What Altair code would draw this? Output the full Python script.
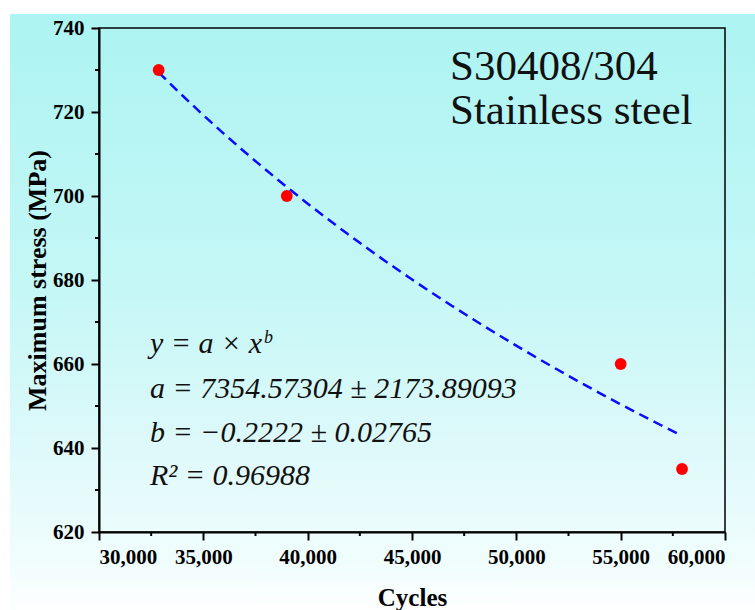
import altair as alt
import pandas as pd

# ---- data ----
cycles = [32860, 39000, 55000, 57940]
stress = [730, 700, 660, 635]
x_ticks = [30000, 35000, 40000, 45000, 50000, 55000, 60000]
x_minor = [32500, 37500, 42500, 47500, 52500, 57500]
y_ticks = [620, 640, 660, 680, 700, 720, 740]
y_minor = [630, 650, 670, 690, 710, 730]
title_lines = ["S30408/304", "Stainless steel"]
eq_lines = ["y = a × x", "a = 7354.57304 ± 2173.89093",
            "b = −0.2222 ± 0.02765", "R² = 0.96988"]
eq_sup = "b"

W, H = 626, 504
SERIF = "Liberation Serif"

df = pd.DataFrame({"cycles": cycles, "stress": stress})
one = alt.Data(values=[{"k": 0}])

xscale = alt.Scale(domain=[30000, 60000], nice=False, zero=False)
yscale = alt.Scale(domain=[620, 740], nice=False, zero=False)
xaxis = alt.Axis(values=x_ticks, format=",.0f", title="Cycles", zindex=2,
                 titleX=W / 2, titleY=73, titleBaseline="alphabetic",
                 titleFontSize=25, labelPadding=6)
yaxis = alt.Axis(values=y_ticks, format=".0f", title="Maximum stress (MPa)", zindex=2,
                 titleX=-54, titleY=H / 2, titleBaseline="alphabetic",
                 titleAngle=-90, titleFontSize=26, labelPadding=7)

bg = alt.Chart(one).mark_rect(
    fill=alt.LinearGradient(
        gradient="linear",
        stops=[
            alt.GradientStop(color="#acf4f2", offset=0),
            alt.GradientStop(color="#c4f7f6", offset=0.45),
            alt.GradientStop(color="#def9fa", offset=0.72),
            alt.GradientStop(color="#f1fdfd", offset=0.92),
            alt.GradientStop(color="#ffffff", offset=1),
        ],
        x1=0, x2=0, y1=0, y2=1,
    )
).encode(x=alt.value(-89), x2=alt.value(660), y=alt.value(-14), y2=alt.value(585))

fit = alt.Chart(df).transform_regression(
    "cycles", "stress", method="pow"
).mark_line(color="#0a0aff", strokeWidth=2.5, strokeDash=[10, 6]).encode(
    x=alt.X("cycles:Q", scale=xscale, axis=xaxis),
    y=alt.Y("stress:Q", scale=yscale, axis=yaxis),
)

pts = alt.Chart(df).mark_circle(color="#ff0000", opacity=1, size=140).encode(
    x=alt.X("cycles:Q", scale=xscale, axis=xaxis),
    y=alt.Y("stress:Q", scale=yscale, axis=yaxis),
)

xm = alt.Chart(pd.DataFrame({"cycles": x_minor})).mark_rule(color="black", strokeWidth=2).encode(
    x=alt.X("cycles:Q", scale=xscale, axis=xaxis), y=alt.value(H), y2=alt.value(H + 4))
ym = alt.Chart(pd.DataFrame({"stress": y_minor})).mark_rule(color="black", strokeWidth=2).encode(
    y=alt.Y("stress:Q", scale=yscale, axis=yaxis), x=alt.value(0), x2=alt.value(-4))

frame = alt.Chart(one).mark_rect(fill="transparent", stroke="black", strokeWidth=1.5).encode(
    x=alt.value(0), x2=alt.value(W), y=alt.value(0), y2=alt.value(H))

titles = [
    alt.Chart(one).mark_text(text=t, font=SERIF, fontSize=43, align="left",
                             baseline="alphabetic", color="#111111").encode(
        x=alt.value(351), y=alt.value(yy))
    for t, yy in zip(title_lines, [52, 96])
]

eqs = [
    alt.Chart(one).mark_text(text=t, font=SERIF, fontSize=30, fontStyle="italic",
                             align="left", baseline="alphabetic", color="#111111").encode(
        x=alt.value(51), y=alt.value(yy))
    for t, yy in zip(eq_lines, [325, 370, 414, 457])
]
sup = alt.Chart(one).mark_text(text=eq_sup, font=SERIF, fontSize=18, fontStyle="italic",
                               align="left", baseline="alphabetic", color="#111111").encode(
    x=alt.value(165), y=alt.value(315))

chart = alt.layer(bg, fit, pts, xm, ym, frame, *titles, *eqs, sup).properties(
    width=W, height=H,
    autosize=alt.AutoSizeParams(type="none"),
    padding={"left": 99, "top": 28, "right": 30, "bottom": 78},
    background="white",
).configure_view(stroke=None).configure_axis(
    grid=False,
    domainColor="black", domainWidth=2,
    tickColor="black", tickWidth=2, tickSize=8,
    labelFont=SERIF, labelFontWeight="bold", labelFontSize=21, labelColor="black",
    titleFont=SERIF, titleFontWeight="bold", titleColor="black",
)

chart.save("out.html", embed_options={"renderer": "svg", "actions": False})
